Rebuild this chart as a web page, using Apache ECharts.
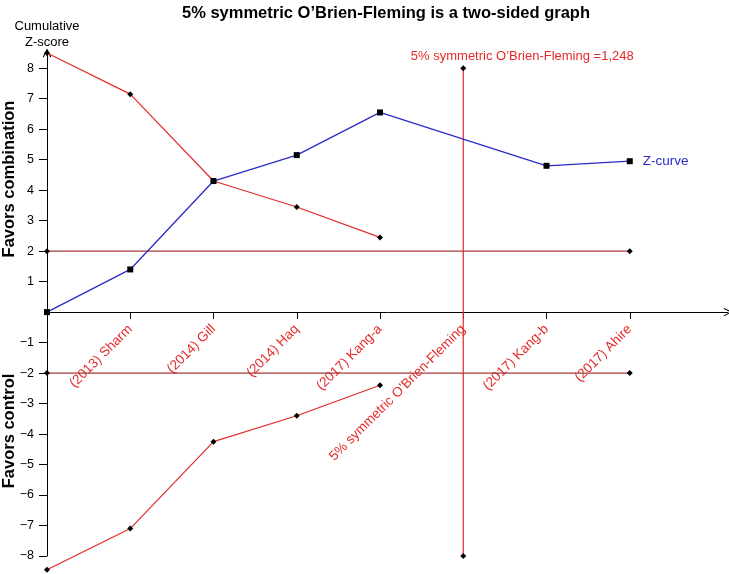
<!DOCTYPE html>
<html>
<head>
<meta charset="utf-8">
<script src="https://cdn.jsdelivr.net/npm/echarts@6/dist/echarts.min.js"></script>
<style>
html,body{margin:0;padding:0;background:#fff;}
#chart{width:729px;height:574px;}
</style>
</head>
<body>
<div id="chart"></div>
<script>
// categories along the information axis (index 0 = origin)
var categories = ['', '(2013) Sharm', '(2014) Gill', '(2014) Haq', '(2017) Kang-a',
  '5% symmetric O\u2019Brien-Fleming', '(2017) Kang-b', '(2017) Ahire'];
// Z-curve (cumulative Z-score) at category indices
var zIdx = [0, 1, 2, 3, 4, 6, 7];
var zValues = [0, 1.4, 4.3, 5.15, 6.55, 4.8, 4.95];
// O'Brien-Fleming monitoring boundaries
var boundIdx = [0, 1, 2, 3, 4];
var upperBoundary = [8.5, 7.15, 4.3, 3.45, 2.45];
var lowerBoundary = [-8.45, -7.1, -4.25, -3.4, -2.4];
// conventional boundaries
var conventional = [2, -2];
var convIdx = [0, 7];
// required information size line
var risIdx = 5;
var risRange = [8, -8];
var yTicks = [-8, -7, -6, -5, -4, -3, -2, -1, 1, 2, 3, 4, 5, 6, 7, 8];
var xTicks = [1, 2, 3, 4, 5, 6, 7];

var FONT = 'Liberation Sans, Arial, sans-serif';
var RED = '#e52a2a';
var DARKRED = '#a83a3a';
var BLUE = '#2a2ac8';

function pairs(idx, vals) { return idx.map(function (x, i) { return [x, vals[i]]; }); }

var chart = echarts.init(document.getElementById('chart'), null, {renderer: 'canvas'});
var chevron = 'path://M0,10 L5,0 L10,10 L9,10.8 L5,2.6 L1,10.8 Z';

var option = {
  animation: false,
  backgroundColor: '#fff',
  title: {
    text: '5% symmetric O\u2019Brien-Fleming is a two-sided graph',
    left: 381, top: 0, textAlign: 'center',
    textStyle: {fontFamily: FONT, fontSize: 16.5, fontWeight: 'bold', color: '#000'}
  },
  grid: {left: 47, right: 1, top: 53, bottom: 18, containLabel: false, outerBoundsMode: 'none'},
  xAxis: {
    type: 'value', min: 0, max: 8.18, position: 'bottom', offset: 0,
    axisLine: {onZero: false, lineStyle: {color: '#000', width: 1},
      symbol: ['none', chevron], symbolSize: [10, 9]},
    axisTick: {show: true, length: 7, inside: false, customValues: xTicks, lineStyle: {color: '#000'}},
    axisLabel: {show: true, customValues: xTicks, rotate: 45, margin: 15,
      color: RED, fontFamily: FONT, fontSize: 13.5,
      formatter: function (v) { return categories[Math.round(v)] || ''; }},
    splitLine: {show: false}
  },
  yAxis: {
    type: 'value', min: -8, max: 8.5,
    name: 'Cumulative\nZ-score', nameLocation: 'end', nameGap: 3,
    nameTextStyle: {fontFamily: FONT, fontSize: 13, color: '#000', align: 'center', verticalAlign: 'bottom', lineHeight: 16},
    axisLine: {onZero: false, lineStyle: {color: '#000', width: 1},
      symbol: ['none', chevron], symbolSize: [10, 9]},
    axisTick: {show: true, length: 8, customValues: yTicks, lineStyle: {color: '#000'}},
    axisLabel: {show: true, customValues: yTicks, margin: 13, color: '#000', fontFamily: FONT, fontSize: 12.5,
      formatter: function (v) { return String(v).replace('-', '\u2212'); }},
    splitLine: {show: false}
  },
  graphic: [
    {type: 'text', rotation: Math.PI / 2, silent: true, x: 9, y: 179,
      style: {text: 'Favors combination', fontFamily: FONT, fontSize: 16.5, fontWeight: 'bold', fill: '#000', align: 'center', verticalAlign: 'middle'}},
    {type: 'text', rotation: Math.PI / 2, silent: true, x: 9, y: 431,
      style: {text: 'Favors control', fontFamily: FONT, fontSize: 16.5, fontWeight: 'bold', fill: '#000', align: 'center', verticalAlign: 'middle'}}
  ],
  series: [
    {type: 'line', name: 'conv upper', data: convIdx.map(function (x) { return [x, conventional[0]]; }),
      lineStyle: {color: DARKRED, width: 1.2}, symbol: 'diamond', symbolSize: 6,
      itemStyle: {color: '#000'}, clip: false, z: 2},
    {type: 'line', name: 'conv lower', data: convIdx.map(function (x) { return [x, conventional[1]]; }),
      lineStyle: {color: DARKRED, width: 1.2}, symbol: 'diamond', symbolSize: 6,
      itemStyle: {color: '#000'}, clip: false, z: 2},
    {type: 'line', name: 'RIS', data: risRange.map(function (v) { return [risIdx, v]; }),
      lineStyle: {color: RED, width: 1.2}, symbol: 'diamond', symbolSize: 6,
      itemStyle: {color: '#000'}, clip: false, z: 3,
      label: {show: true, formatter: function (p) { return p.dataIndex === 0 ? '5% symmetric O\u2019Brien-Fleming =1,248' : ''; },
        position: 'top', distance: 2, offset: [59, 0], color: RED, fontFamily: FONT, fontSize: 13}},
    {type: 'line', name: 'upper', data: pairs(boundIdx, upperBoundary),
      lineStyle: {color: RED, width: 1.2}, symbol: 'diamond', symbolSize: 6,
      itemStyle: {color: '#000'}, clip: false, z: 3},
    {type: 'line', name: 'lower', data: pairs(boundIdx, lowerBoundary),
      lineStyle: {color: RED, width: 1.2}, symbol: 'diamond', symbolSize: 6,
      itemStyle: {color: '#000'}, clip: false, z: 3},
    {type: 'line', name: 'Z-curve', data: pairs(zIdx, zValues),
      lineStyle: {color: BLUE, width: 1.3}, symbol: 'rect', symbolSize: 6,
      itemStyle: {color: '#000'}, clip: false, z: 4,
      label: {show: true, formatter: function (p) { return p.dataIndex === zIdx.length - 1 ? 'Z-curve' : ''; },
        position: 'right', distance: 10, color: BLUE, fontFamily: FONT, fontSize: 13.5}}
  ]
};
chart.setOption(option);
// place the x axis on the zero line, using the library's own y scale
var yZero = chart.convertToPixel({yAxisIndex: 0}, 0);
var yBottom = chart.convertToPixel({yAxisIndex: 0}, -8);
chart.setOption({xAxis: {offset: yZero - yBottom}});
</script>
</body>
</html>
